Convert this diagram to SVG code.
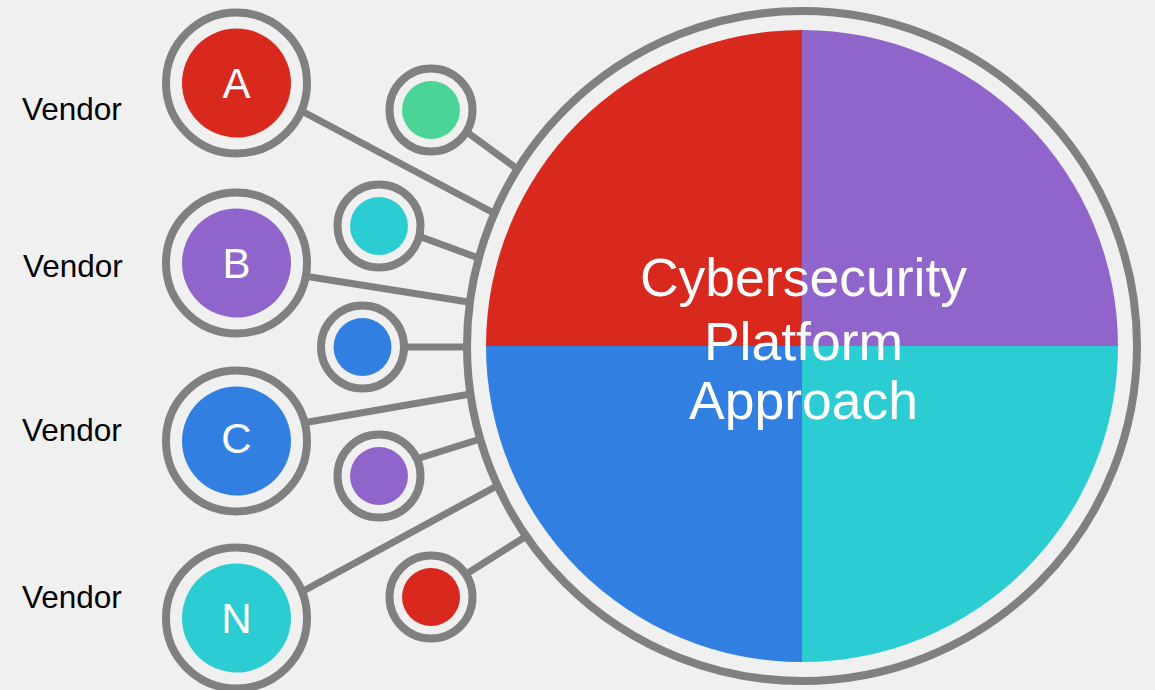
<svg xmlns="http://www.w3.org/2000/svg" width="1155" height="690" viewBox="0 0 1155 690">
<style>
.ring{fill:#F0F0F0;stroke:#808080;stroke-width:8}
.conn{stroke:#808080;stroke-width:7;fill:none}
.vend{font-family:"Liberation Sans",Arial,sans-serif;font-size:31.5px;fill:#000}
.letter{font-family:"Liberation Sans",Arial,sans-serif;font-size:42px;fill:#fff;text-anchor:middle}
.title{font-family:"Liberation Sans",Arial,sans-serif;font-size:53.5px;fill:#fff;text-anchor:middle}
.red{fill:#D9281D}.purple{fill:#9065CB}.teal{fill:#2CCCD3}.blue{fill:#3180E1}.green{fill:#4AD597}
</style>
<rect width="1155" height="690" fill="#F0F0F0"/>
<g id="connectors">
<line class="conn" x1="296" y1="108" x2="505" y2="219"/>
<line class="conn" x1="460" y1="127" x2="527" y2="176"/>
<line class="conn" x1="413" y1="234" x2="492" y2="263"/>
<line class="conn" x1="298" y1="275" x2="481" y2="304"/>
<line class="conn" x1="397" y1="347" x2="480" y2="347"/>
<line class="conn" x1="297" y1="424" x2="482" y2="392"/>
<line class="conn" x1="410" y1="461" x2="490" y2="436"/>
<line class="conn" x1="296" y1="595" x2="506" y2="481"/>
<line class="conn" x1="460" y1="578" x2="536" y2="530"/>
</g>
<g id="platform">
<circle class="ring" cx="802" cy="346" r="335"/>
<path class="red" d="M802,346 L486,346 A316,316 0 0 1 802,30 Z"/>
<path class="purple" d="M802,346 L802,30 A316,316 0 0 1 1118,346 Z"/>
<path class="teal" d="M802,346 L1118,346 A316,316 0 0 1 802,662 Z"/>
<path class="blue" d="M802,346 L802,662 A316,316 0 0 1 486,346 Z"/>
<text class="title" x="803.5" y="296">Cybersecurity</text>
<text class="title" x="803.5" y="360">Platform</text>
<text class="title" x="803.5" y="419">Approach</text>
</g>
<g id="vendor-a">
<text class="vend" x="22" y="120">Vendor</text>
<circle class="ring" cx="236.5" cy="83" r="70.5"/>
<circle class="red" cx="236.5" cy="83" r="54.5"/>
<text class="letter" x="236.5" y="98">A</text>
</g>
<g id="vendor-b">
<text class="vend" x="23" y="277">Vendor</text>
<circle class="ring" cx="236.5" cy="263" r="70.5"/>
<circle class="purple" cx="236.5" cy="263" r="54.5"/>
<text class="letter" x="236.5" y="278">B</text>
</g>
<g id="vendor-c">
<text class="vend" x="22" y="441">Vendor</text>
<circle class="ring" cx="236.5" cy="441" r="70.5"/>
<circle class="blue" cx="236.5" cy="441" r="54.5"/>
<text class="letter" x="236.5" y="453">C</text>
</g>
<g id="vendor-n">
<text class="vend" x="22" y="608">Vendor</text>
<circle class="ring" cx="236.5" cy="618" r="70.5"/>
<circle class="teal" cx="236.5" cy="618" r="54.5"/>
<text class="letter" x="236.5" y="633">N</text>
</g>
<g id="small-green">
<circle class="ring" cx="431" cy="110" r="41.5"/>
<circle class="green" cx="431" cy="110" r="29"/>
</g>
<g id="small-teal">
<circle class="ring" cx="379" cy="226" r="41.5"/>
<circle class="teal" cx="379" cy="226" r="29"/>
</g>
<g id="small-blue">
<circle class="ring" cx="362.5" cy="347" r="41.5"/>
<circle class="blue" cx="362.5" cy="347" r="29"/>
</g>
<g id="small-purple">
<circle class="ring" cx="379" cy="476" r="41.5"/>
<circle class="purple" cx="379" cy="476" r="29"/>
</g>
<g id="small-red">
<circle class="ring" cx="431" cy="597" r="41.5"/>
<circle class="red" cx="431" cy="597" r="29"/>
</g>
</svg>
